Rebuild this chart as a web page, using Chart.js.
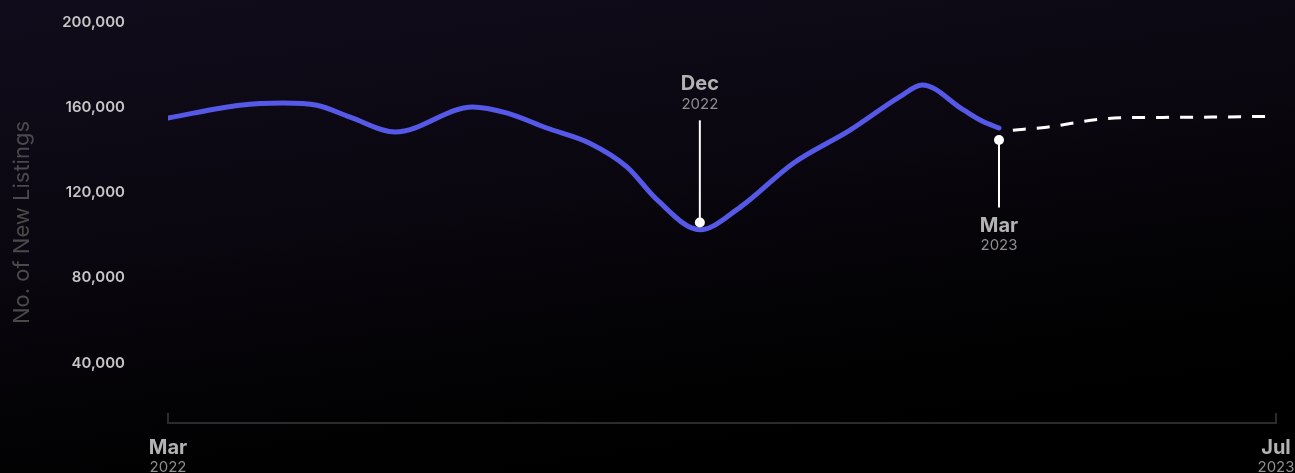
<!DOCTYPE html>
<html>
<head>
<meta charset="utf-8">
<script src="https://cdn.jsdelivr.net/npm/chart.js@4/dist/chart.umd.min.js"></script>
<style>
html, body { margin: 0; padding: 0; }
body {
    width: 1295px;
    height: 473px;
    overflow: hidden;
    background: linear-gradient(172deg, #110c1b 0%, #0a0710 40%, #030204 65%, #000 85%);
}
#wrap { position: relative; width: 1295px; height: 473px; }
canvas { display: block; }
</style>
</head>
<body>
<div id="wrap"><canvas id="listingsChart" width="1295" height="473"></canvas></div>
<script>
// x values are months since Mar 2022
let actualMonths = [0, 1.04, 1.66, 2.15, 2.63, 3.28, 4.4, 4.9, 5.47, 6.09, 6.63, 7.06, 7.68, 8.26, 9.03, 9.85, 10.57, 10.89, 11.48, 11.77, 12];
let actualListings = [155000, 161000, 162000, 161000, 155400, 148400, 160200, 157300, 150300, 143200, 132000, 116700, 102600, 113100, 133800, 149300, 165000, 170500, 158900, 153300, 150300];
let forecastMonths = [12.2, 12.69, 13.42, 13.94, 14.61, 16];
let forecastListings = [149300, 150700, 154300, 155200, 155300, 155800];

let yTicks = [40000, 80000, 120000, 160000, 200000];
let xTickMonths = [0, 16];
let xTickLabels = [['Mar', '2022'], ['Jul', '2023']];

// callouts: where the dot sits and where the stem ends
let calloutMonths = [7.68, 12];
let calloutDots = [106000, 144700];
let calloutEnds = [153900, 113000];
let calloutLabels = [['Dec', '2022'], ['Mar', '2023']];

const FONT = 'Inter, "Noto Sans", sans-serif';

function toPoints(xs, ys) {
    return xs.map(function(x, i) { return { x: x, y: ys[i] }; });
}

const decorPlugin = {
    id: 'decor',
    afterDatasetsDraw: function(chart) {
        let ctx = chart.ctx;
        let xs = chart.scales.x;
        let ys = chart.scales.y;
        let bottom = chart.chartArea.bottom;
        ctx.save();

        // x axis base line with end ticks
        ctx.strokeStyle = '#2b2b2b';
        ctx.lineWidth = 2;
        let x0 = xs.getPixelForValue(xTickMonths[0]);
        let x1 = xs.getPixelForValue(xTickMonths[xTickMonths.length - 1]);
        ctx.beginPath();
        ctx.moveTo(x0, bottom - 10);
        ctx.lineTo(x0, bottom);
        ctx.lineTo(x1, bottom);
        ctx.lineTo(x1, bottom - 10);
        ctx.stroke();

        // x tick labels
        ctx.textAlign = 'center';
        ctx.textBaseline = 'middle';
        xTickMonths.forEach(function(m, i) {
            let px = xs.getPixelForValue(m);
            ctx.fillStyle = '#b3b3b3';
            ctx.font = '700 20px ' + FONT;
            ctx.fillText(xTickLabels[i][0], px, bottom + 25);
            ctx.fillStyle = '#8e8e8e';
            ctx.font = '400 15px ' + FONT;
            ctx.fillText(xTickLabels[i][1], px, bottom + 44);
        });

        // callouts
        calloutMonths.forEach(function(m, i) {
            let px = xs.getPixelForValue(m);
            let dotY = ys.getPixelForValue(calloutDots[i]);
            let endY = ys.getPixelForValue(calloutEnds[i]);
            ctx.strokeStyle = '#ffffff';
            ctx.lineWidth = 2;
            ctx.beginPath();
            ctx.moveTo(px, dotY);
            ctx.lineTo(px, endY);
            ctx.stroke();
            ctx.fillStyle = '#ffffff';
            ctx.beginPath();
            ctx.arc(px, dotY, 5, 0, Math.PI * 2);
            ctx.fill();

            let above = endY < dotY;
            let monthY = above ? endY - 36 : endY + 18;
            let yearY = above ? endY - 16 : endY + 38;
            ctx.fillStyle = '#b3b3b3';
            ctx.font = '700 20px ' + FONT;
            ctx.fillText(calloutLabels[i][0], px, monthY);
            ctx.fillStyle = '#8e8e8e';
            ctx.font = '400 15px ' + FONT;
            ctx.fillText(calloutLabels[i][1], px, yearY);
        });
        ctx.restore();
    }
};

let listingsCtx = document.getElementById('listingsChart').getContext('2d');

let listingsChart = new Chart(listingsCtx, {
    type: 'line',
    data: {
        datasets: [{
            label: 'New listings',
            data: toPoints(actualMonths, actualListings),
            borderColor: '#5658e8',
            borderWidth: 5,
            borderCapStyle: 'round',
            pointRadius: 0,
            cubicInterpolationMode: 'monotone'
        }, {
            label: 'Forecast',
            data: toPoints(forecastMonths, forecastListings),
            borderColor: '#ffffff',
            borderWidth: 3,
            borderDash: [13, 11],
            pointRadius: 0,
            cubicInterpolationMode: 'monotone'
        }]
    },
    options: {
        responsive: false,
        animation: false,
        events: [],
        layout: {
            padding: { top: 22, right: 19, bottom: 0, left: 0 }
        },
        plugins: {
            legend: { display: false },
            tooltip: { enabled: false }
        },
        scales: {
            x: {
                type: 'linear',
                min: 0,
                max: 16,
                grid: { display: false, drawTicks: false },
                border: { display: false },
                ticks: { display: false },
                afterFit: function(scale) { scale.height = 50; }
            },
            y: {
                min: 12000,
                max: 200000,
                // invisible tick marks push the labels away from the plot
                grid: {
                    display: true,
                    drawOnChartArea: false,
                    drawTicks: true,
                    tickLength: 40,
                    color: 'rgba(0,0,0,0)'
                },
                border: { display: false },
                afterBuildTicks: function(scale) {
                    scale.ticks = yTicks.map(function(v) { return { value: v }; });
                },
                ticks: {
                    padding: 3,
                    color: '#c6c6c6',
                    font: { family: FONT, size: 15, weight: '600' },
                    callback: function(value) {
                        return value.toLocaleString('en-US');
                    }
                },
                title: {
                    display: true,
                    text: 'No. of New Listings',
                    color: '#4a4a4a',
                    font: { family: FONT, size: 22, weight: '400' },
                    padding: { top: 9, bottom: 0 }
                },
                afterFit: function(scale) { scale.width = 168; }
            }
        }
    },
    plugins: [decorPlugin]
});
</script>
</body>
</html>
